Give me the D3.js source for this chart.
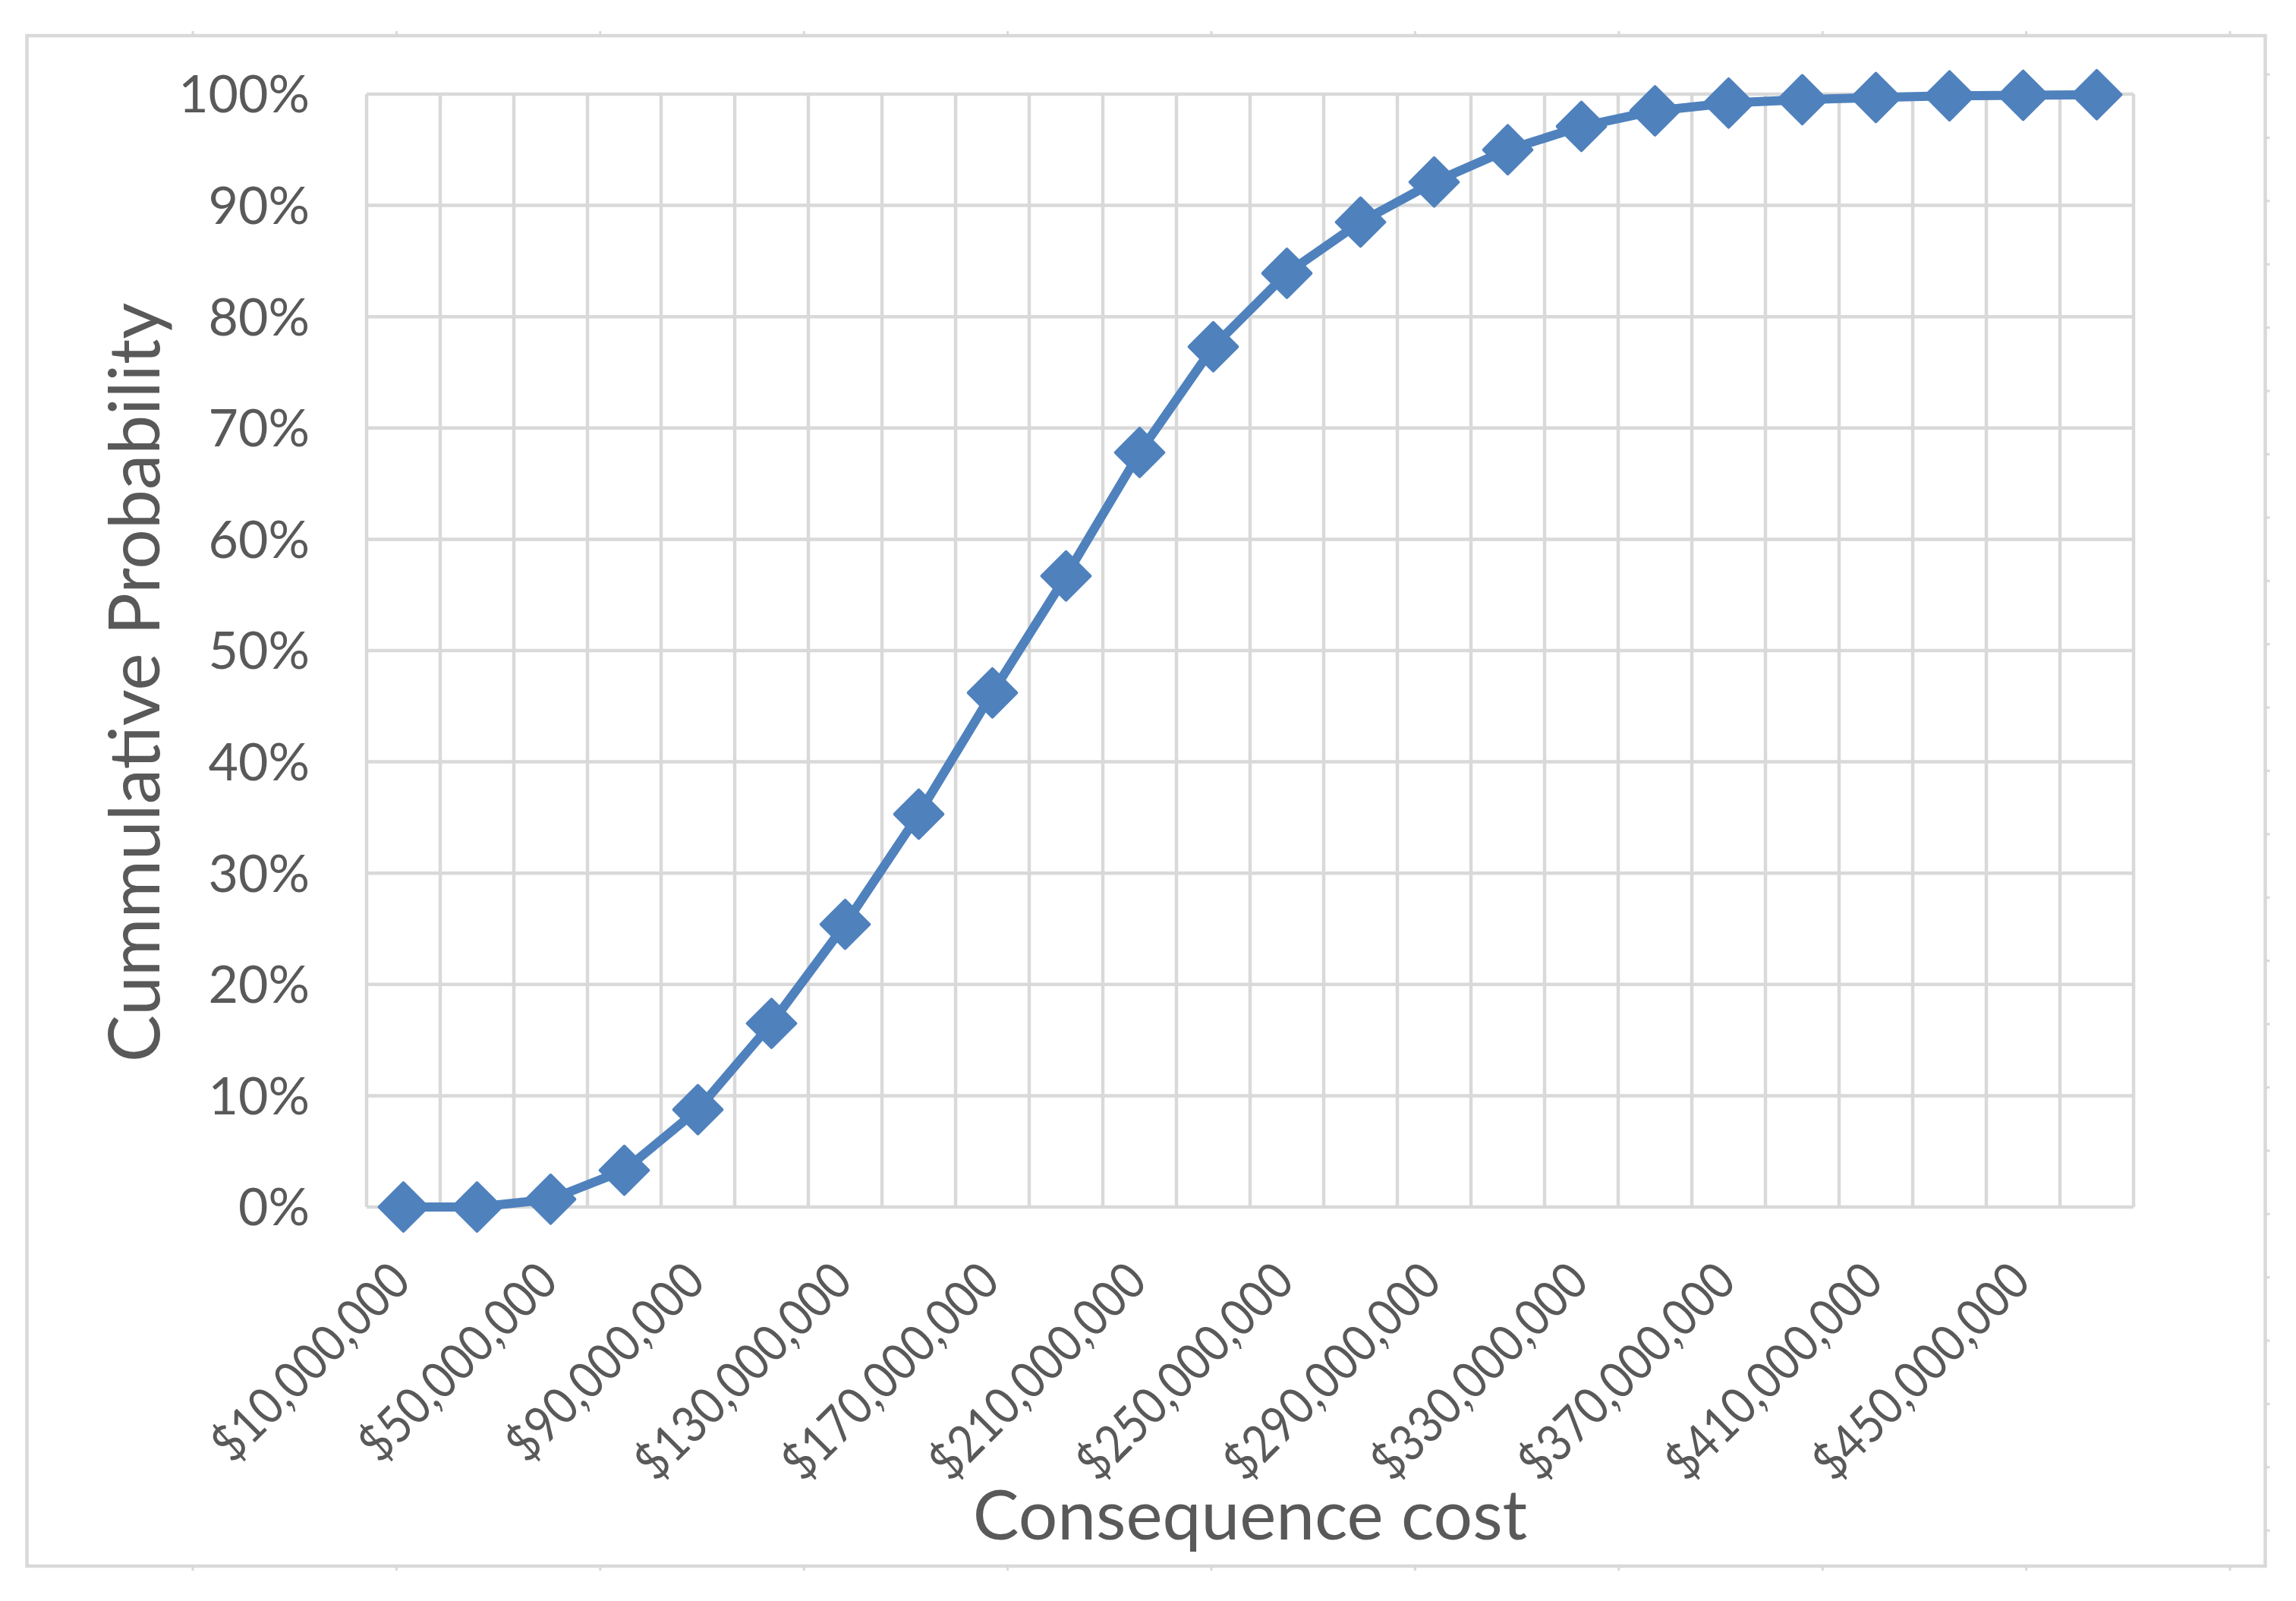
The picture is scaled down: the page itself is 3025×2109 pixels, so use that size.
<!DOCTYPE html>
<html>
<head>
<meta charset="utf-8">
<script src="https://cdn.jsdelivr.net/npm/d3@7"></script>
<style>
  html, body { margin: 0; padding: 0; background: #fff; }
  svg { display: block; }
</style>
</head>
<body>
<svg id="chart" width="3025" height="2109"></svg>
<script>
const costs = [
  10000000, 30000000, 50000000, 70000000, 90000000, 110000000,
  130000000, 150000000, 170000000, 190000000, 210000000, 230000000,
  250000000, 270000000, 290000000, 310000000, 330000000, 350000000,
  370000000, 390000000, 410000000, 430000000, 450000000, 470000000
];
const cumProb = [
  0, 0, 0.007, 0.033, 0.0875, 0.165,
  0.254, 0.353, 0.462, 0.567, 0.678, 0.773,
  0.839, 0.885, 0.921, 0.950, 0.971, 0.985,
  0.992, 0.995, 0.997, 0.9985, 0.999, 0.9995
];
const labelCosts = [
  10000000, 50000000, 90000000, 130000000, 170000000, 210000000,
  250000000, 290000000, 330000000, 370000000, 410000000, 450000000
];
const yTicks = [0, 0.1, 0.2, 0.3, 0.4, 0.5, 0.6, 0.7, 0.8, 0.9, 1];

function draw(rootId) {
  const GRID = '#D9D9D9';
  const TEXT_FILL = '#595959';
  const SERIES = '#4F81BD';
  const FONT = 'Lato, "Open Sans", sans-serif';

  const root = d3.select(rootId);
  const width = +root.attr('width');
  const height = +root.attr('height');
  const plot = { left: 483, right: 2811, top: 124, bottom: 1590 };

  const x = d3.scaleBand().domain(costs).range([plot.left, plot.right]);
  const y = d3.scaleLinear().domain([0, 1]).range([plot.bottom, plot.top]);
  const cx = d => x(d) + x.bandwidth() / 2;

  root.append('rect')
    .attr('width', width)
    .attr('height', height)
    .attr('fill', '#fff');

  // outer chart frame, with the little ruler marks round it
  const frame = { left: 35.5, right: 2984.5, top: 47, bottom: 2063 };
  root.append('rect')
    .attr('x', frame.left)
    .attr('y', frame.top)
    .attr('width', frame.right - frame.left)
    .attr('height', frame.bottom - frame.top)
    .attr('fill', 'none')
    .attr('stroke', GRID)
    .attr('stroke-width', 4.5);

  const marks = root.append('g').attr('stroke', GRID).attr('stroke-width', 3);
  d3.range(11).forEach(k => {
    const mx = 254 + 268.4 * k;
    marks.append('line').attr('x1', mx).attr('x2', mx)
      .attr('y1', frame.top - 6).attr('y2', frame.top);
    marks.append('line').attr('x1', mx).attr('x2', mx)
      .attr('y1', frame.bottom).attr('y2', frame.bottom + 6);
  });
  d3.range(24).forEach(k => {
    const my = 98 + 83.4 * k;
    marks.append('line').attr('x1', frame.right).attr('x2', frame.right + 6)
      .attr('y1', my).attr('y2', my);
  });

  // grid
  const grid = root.append('g').attr('stroke', GRID).attr('stroke-width', 4.5);
  grid.selectAll('.hgrid')
    .data(yTicks)
    .enter()
    .append('line')
    .attr('class', 'hgrid')
    .attr('x1', plot.left)
    .attr('x2', plot.right)
    .attr('y1', d => y(d))
    .attr('y2', d => y(d));

  const edges = costs.map(c => x(c)).concat([plot.right]);
  grid.selectAll('.vgrid')
    .data(edges)
    .enter()
    .append('line')
    .attr('class', 'vgrid')
    .attr('x1', d => d)
    .attr('x2', d => d)
    .attr('y1', plot.top)
    .attr('y2', plot.bottom);

  // y axis labels
  const yAxis = root.append('g')
    .attr('transform', 'translate(' + plot.left + ',0)')
    .call(d3.axisLeft(y)
      .tickValues(yTicks)
      .tickFormat(d3.format('.0%'))
      .tickSize(0)
      .tickPadding(75));
  yAxis.select('.domain').remove();
  yAxis.selectAll('text')
    .attr('fill', TEXT_FILL)
    .attr('font-family', FONT)
    .attr('font-size', '68px')
    .attr('dy', '0.35em');

  // x axis labels, rotated (squeezed a little to match the narrower original face)
  const fmt = d3.format('$,');
  root.append('g')
    .selectAll('text')
    .data(labelCosts)
    .enter()
    .append('text')
    .attr('transform', d => 'translate(' + (cx(d) - 4) + ',' + 1675 + ') rotate(-45) scale(0.885,1)')
    .attr('text-anchor', 'end')
    .attr('dy', '0.35em')
    .attr('fill', TEXT_FILL)
    .attr('font-family', FONT)
    .attr('font-size', '67px')
    .text(d => fmt(d));

  // axis titles
  root.append('text')
    .attr('x', (plot.left + plot.right) / 2)
    .attr('y', 2028)
    .attr('text-anchor', 'middle')
    .attr('fill', TEXT_FILL)
    .attr('font-family', FONT)
    .attr('font-size', '91px')
    .text('Consequence cost');

  root.append('text')
    .attr('transform', 'translate(210,899) rotate(-90)')
    .attr('text-anchor', 'middle')
    .attr('fill', TEXT_FILL)
    .attr('font-family', FONT)
    .attr('font-size', '93px')
    .text('Cummulative Probability');

  // series
  const points = costs.map((c, i) => ({ cost: c, p: cumProb[i] }));
  const line = d3.line()
    .x(d => cx(d.cost))
    .y(d => y(d.p));

  root.append('path')
    .datum(points)
    .attr('fill', 'none')
    .attr('stroke', SERIES)
    .attr('stroke-width', 12)
    .attr('stroke-linejoin', 'round')
    .attr('d', line);

  const diamond = d3.symbol().type(d3.symbolSquare).size(2025);
  root.append('g')
    .selectAll('path')
    .data(points)
    .enter()
    .append('path')
    .attr('transform', d => 'translate(' + cx(d.cost) + ',' + y(d.p) + ') rotate(45)')
    .attr('d', diamond)
    .attr('fill', SERIES)
    .attr('stroke', SERIES)
    .attr('stroke-width', 4)
    .attr('stroke-linejoin', 'round');
}

draw('#chart');
</script>
</body>
</html>
